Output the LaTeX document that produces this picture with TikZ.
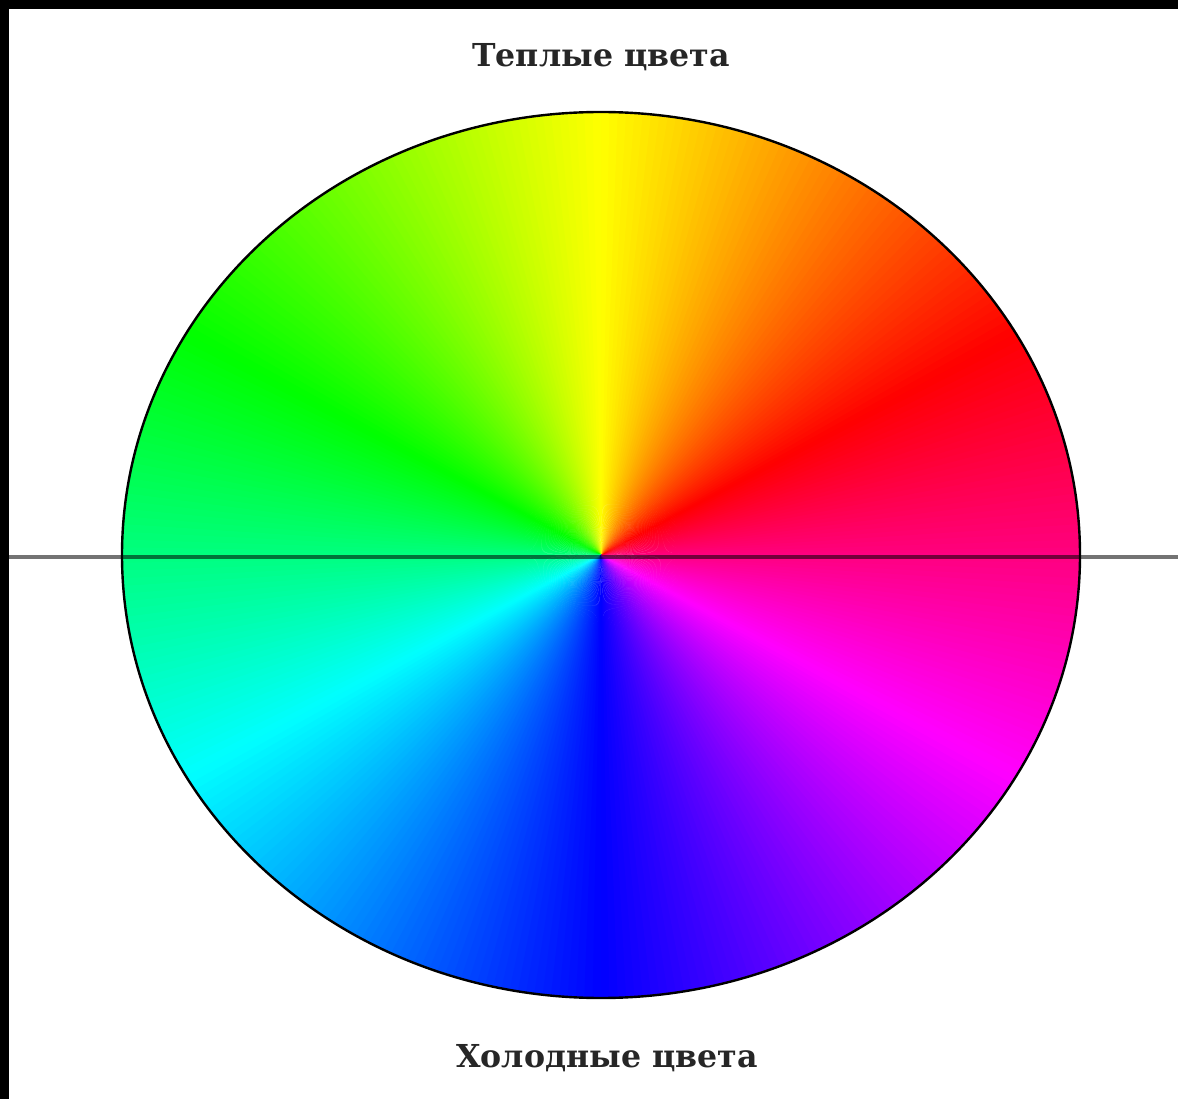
\documentclass[tikz,border=0pt]{standalone}
\usepackage{fontspec}
\setmainfont{DejaVu Serif}
\usepackage{xcolor}
\begin{document}
\begin{tikzpicture}[x=0.5pt,y=0.5pt,
  label text/.style={text=black!85, font=\bfseries\fontsize{15.8}{19}\selectfont, inner sep=0pt},
  frame bar/.style={fill=black},
  axis line/.style={draw=black, opacity=0.55, line width=1.6pt},
  wheel outline/.style={draw=black, line width=1.2pt}]
\useasboundingbox (0,0) rectangle (1178,1099);
\fill[white] (0,0) rectangle (1178,1099);
% black frame bars (top and left)
\fill[frame bar] (0,1090) rectangle (1178,1099);
\fill[frame bar] (0,0) rectangle (9,1099);
% colour wheel: hue = angle - 30
\coordinate (c) at (601,544);
\foreach \a in {0,...,359} {
  \pgfmathsetmacro\h{mod(\a-30+360+0.5,360)}
  \definecolor{wc}{Hsb}{\h,1,1}
  \fill[wc] (c) -- ({601+479*cos(\a)},{544+443*sin(\a)})
     arc[start angle=\a, end angle=\a+1.4, x radius=479, y radius=443] -- cycle;
}
\draw[wheel outline] (c) ellipse[x radius=479, y radius=443];
% horizontal axis
\coordinate (lineL) at (9,542);
\coordinate (lineR) at (1178,542);
\draw[axis line] (lineL) -- (lineR);
% labels
\node[label text] (warm) at (601,1042) {Теплые цвета};
\node[label text] (cold) at (607,41) {Холодные цвета};
\end{tikzpicture}
\end{document}
